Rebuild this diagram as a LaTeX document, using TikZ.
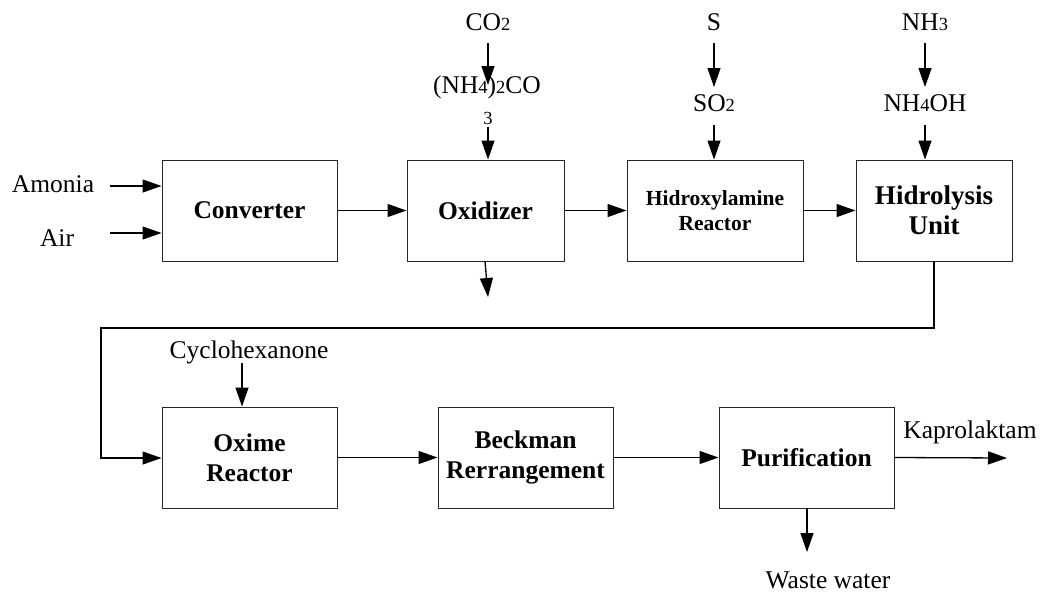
\documentclass[tikz,border=0pt]{standalone}
\usepackage{fontspec}
\setmainfont{Liberation Serif}
\usetikzlibrary{arrows.meta}
\newcommand{\sbs}[1]{{\fontsize{18.5}{18.5}\selectfont #1}}
\begin{document}
\begin{tikzpicture}[x=1pt,y=-1pt,
  box/.style={draw=black!85, line width=1pt, minimum height=101pt, font=\fontsize{25.5}{30}\selectfont\bfseries, align=center, inner sep=0pt},
  lbl/.style={font=\fontsize{25.5}{29}\selectfont, inner sep=0pt},
  arr/.style={-{Triangle[length=19pt,width=13pt]}, line width=1.3pt},
  ln/.style={line width=1.3pt}]
\useasboundingbox (0,0) rectangle (1041,592);

% boxes
\node[box, minimum width=175pt] (conv) at (249.5,210.5) {Converter};
\node[box, minimum width=157pt] (ox) at (485.5,210.5) {Oxidizer};
\node[box, minimum width=176pt, font=\fontsize{21.5}{25}\selectfont\bfseries] (hx) at (715,210.5) {Hidroxylamine\\Reactor};
\node[box, minimum width=156pt, font=\fontsize{27}{30}\selectfont\bfseries] (hl) at (934,210.5) {Hidrolysis\\Unit};
\node[box, minimum width=175pt] (oxm) at (249.5,457.5) {Oxime\\Reactor};
\node[box, minimum width=175pt] (bk) at (525.5,457.5) {Beckman\\Rerrangement};
\node[box, minimum width=175pt] (pur) at (806.5,457.5) {Purification};

% labels
\node[lbl] (am) at (53,184) {Amonia};
\node[lbl] (air) at (57,238) {Air};
\node[lbl] (co2) at (488,22) {CO\sbs{2}};
\node[lbl] (amc) at (487,87) {(NH\sbs{4})\sbs{2}CO};
\node[inner sep=0pt] (three) at (488,118) {\sbs{3}};
\node[lbl] (s) at (714,22) {S};
\node[lbl] (so2) at (714,103) {SO\sbs{2}};
\node[lbl] (nh3) at (925,22) {NH\sbs{3}};
\node[lbl] (nh4oh) at (925,103) {NH\sbs{4}OH};
\node[lbl] (cyc) at (249,352) {Cyclohexanone};
\node[lbl] (kap) at (970,432) {Kaprolaktam};
\node[lbl] (ww) at (828,580) {Waste water};

% helper coordinates
\coordinate (amS) at (110,186);
\coordinate (airS) at (110,233);
\coordinate (co2S) at (488,43);
\coordinate (co2E) at (488,85);
\coordinate (thrS) at (488,127);
\coordinate (sS) at (714,43);
\coordinate (sE) at (714,87);
\coordinate (so2S) at (714,125);
\coordinate (nh3S) at (925,43);
\coordinate (nh3E) at (925,87);
\coordinate (nh4S) at (925,125);
\coordinate (oxB) at (485,261);
\coordinate (oxOut) at (488,297);
\coordinate (hlB) at (934,261);
\coordinate (c1) at (934,328);
\coordinate (c2) at (101,328);
\coordinate (c3) at (101,458);
\coordinate (cycS) at (242,363);
\coordinate (kapE) at (1007,458);
\coordinate (purB) at (807,508);
\coordinate (wwE) at (807,552);

% connectors
\draw[arr] (amS) -- (amS -| conv.west);
\draw[arr] (airS) -- (airS -| conv.west);
\draw[arr] (conv.east) -- (ox.west);
\draw[arr] (ox.east) -- (hx.west);
\draw[arr] (hx.east) -- (hl.west);
\draw[arr] (co2S) -- (co2E);
\draw[arr] (thrS) -- (thrS |- ox.north);
\draw[arr] (sS) -- (sE);
\draw[arr] (so2S) -- (so2S |- hx.north);
\draw[arr] (nh3S) -- (nh3E);
\draw[arr] (nh4S) -- (nh4S |- hl.north);
\draw[arr] (oxB) -- (oxOut);
\draw[arr] (hlB) -- (c1) -- (c2) -- (c3) -- (c3 -| oxm.west);
\draw[arr] (cycS) -- (cycS |- oxm.north);
\draw[arr] (oxm.east) -- (bk.west);
\draw[arr] (bk.east) -- (pur.west);
\draw[arr] (pur.east) -- (kapE);
\draw[arr] (purB) -- (wwE);
\end{tikzpicture}
\end{document}
